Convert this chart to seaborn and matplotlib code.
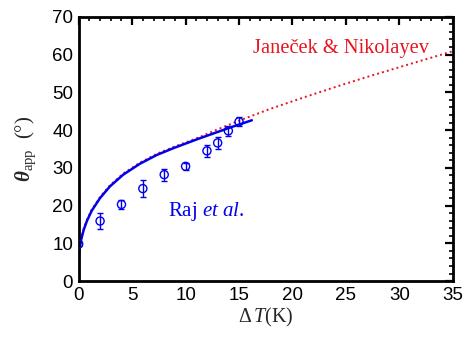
import matplotlib
matplotlib.use("Agg")
import matplotlib.pyplot as plt
import seaborn as sns
import pandas as pd
from matplotlib.ticker import MultipleLocator

# ---- data ----
raj_dT = [0, 2, 4, 6, 8, 10, 12, 13, 14, 15]
raj_theta = [9.8, 15.9, 20.3, 24.5, 28.2, 30.4, 34.5, 36.6, 39.8, 42.2]
raj_err = [0.6, 2.0, 1.1, 2.2, 1.6, 1.0, 1.5, 1.6, 1.3, 1.2]

raj_curve_dT = [0, 0.06, 0.25, 0.47, 0.78, 1.21, 2.0, 2.93, 4.17, 5.74, 7.3,
                8.85, 10.26, 11.3, 12.9, 14.4, 16.2]
raj_curve_theta = [5.6, 8.4, 11.2, 13.6, 16.0, 18.6, 22.0, 25.1, 28.2, 31.1,
                   33.4, 35.2, 36.7, 37.8, 39.4, 40.9, 42.6]

jn_dT = [0, 0.06, 0.25, 0.47, 0.78, 1.21, 2.0, 2.93, 4.17, 5.74, 7.3, 8.85,
         10.26, 11.35, 13, 15.1, 17.9, 21, 24.1, 27, 30.4, 33, 35]
jn_theta = [5.6, 8.7, 11.5, 13.9, 16.3, 18.9, 22.3, 25.4, 28.5, 31.4, 33.7,
            35.5, 37.0, 38.2, 40.2, 42.6, 45.6, 48.6, 51.5, 54.1, 57.0, 59.2, 60.9]

x_ticks = [0, 5, 10, 15, 20, 25, 30, 35]
y_ticks = [0, 10, 20, 30, 40, 50, 60, 70]

BLUE = "#0000ee"
RED = "#e8141e"

sns.set_style("white")
plt.rcParams["font.family"] = ["Liberation Sans", "DejaVu Sans"]
plt.rcParams["mathtext.fontset"] = "custom"
plt.rcParams["mathtext.rm"] = "Liberation Serif"
plt.rcParams["mathtext.it"] = "Liberation Serif:italic"
plt.rcParams["mathtext.bf"] = "Liberation Serif:bold:italic"

fig = plt.figure(figsize=(4.63, 3.37), dpi=100)
ax = fig.add_axes([0.170, 0.166, 0.808, 0.784])

df_jn = pd.DataFrame({"dT": jn_dT, "theta": jn_theta})
df_raj = pd.DataFrame({"dT": raj_curve_dT, "theta": raj_curve_theta})
df_pts = pd.DataFrame({"dT": raj_dT, "theta": raj_theta})

sns.lineplot(data=df_jn, x="dT", y="theta", ax=ax, color=RED, lw=1.4,
             linestyle=(0, (1, 1.6)), sort=False, estimator=None)
sns.lineplot(data=df_raj, x="dT", y="theta", ax=ax, color=BLUE, lw=1.8,
             sort=False, estimator=None)
ax.errorbar(raj_dT, raj_theta, yerr=raj_err, fmt="none", ecolor=BLUE,
            elinewidth=1.0, capsize=2.5, capthick=1.0)
sns.scatterplot(data=df_pts, x="dT", y="theta", ax=ax, marker="o", s=34,
                facecolor="none", edgecolor=BLUE, linewidth=1.0, zorder=5)

ax.set_xlim(0, 35)
ax.set_ylim(0, 70)
ax.set_xticks(x_ticks)
ax.set_yticks(y_ticks)
ax.xaxis.set_minor_locator(MultipleLocator(1))
ax.yaxis.set_minor_locator(MultipleLocator(2))
ax.tick_params(which="both", direction="in", top=True, right=True,
               labelsize=13.5, colors="black", pad=4)
ax.tick_params(which="major", length=6, width=1.6)
ax.tick_params(which="minor", length=3, width=1.2)
for s in ax.spines.values():
    s.set_linewidth(2.0)
    s.set_color("black")

ax.set_xlabel(r"$\Delta\, T$(K)", fontsize=14.5, family="Liberation Serif",
              labelpad=2)
ax.set_ylabel(r"$\mathbf{\theta}_{\mathrm{app}}$  (°)", fontsize=15,
              family="Liberation Serif", labelpad=10)

ax.text(24.5, 61.7, "Janeček & Nikolayev", color=RED, fontsize=14.8,
        family="Liberation Serif", ha="center", va="center")
ax.text(11.9, 18.5, r"Raj $\it{et\ al.}$", color=BLUE, fontsize=15,
        family="Liberation Serif", ha="center", va="center")

fig.savefig("out.png", dpi=100)
